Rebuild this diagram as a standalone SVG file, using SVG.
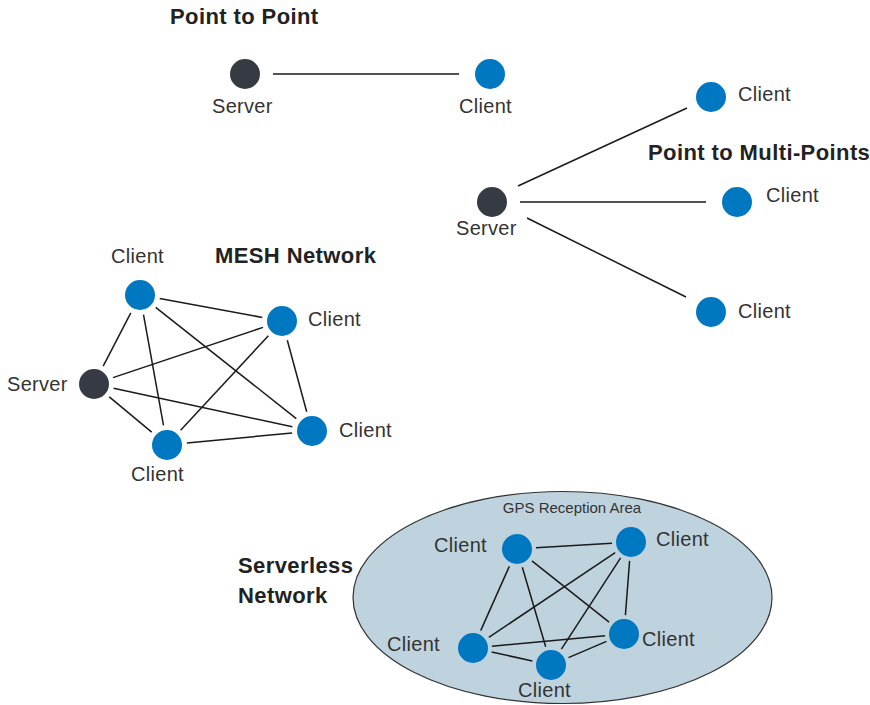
<svg xmlns="http://www.w3.org/2000/svg" width="870" height="705" viewBox="0 0 870 705">
<style>
.srv{fill:#363b43}
.cli{fill:#0077c1}
.lbl{font-family:"Liberation Sans",Arial,sans-serif;font-size:20px;fill:#333;letter-spacing:0.3px}
.ttl{font-family:"Liberation Sans",Arial,sans-serif;font-size:22px;font-weight:bold;fill:#222;letter-spacing:0.4px}
.sm{font-family:"Liberation Sans",Arial,sans-serif;font-size:15px;fill:#333}
.ln line{stroke:#1a1a1a;stroke-width:1.5}
</style>
<rect width="870" height="705" fill="#fff"/>
<g id="area">
<ellipse cx="562.5" cy="597.5" rx="209.5" ry="106" fill="#bfd3de" stroke="#333" stroke-width="1.2"/>
<text class="sm" x="572" y="513" text-anchor="middle">GPS Reception Area</text>
</g>
<g id="titles">
<text class="ttl" x="170" y="24">Point to Point</text>
<text class="ttl" x="648" y="160">Point to Multi-Points</text>
<text class="ttl" x="215" y="263">MESH Network</text>
<text class="ttl" x="238" y="573">Serverless</text>
<text class="ttl" x="238" y="603">Network</text>
</g>
<g id="connectors" class="ln">
<line x1="273" y1="74" x2="459" y2="74"/>
<line x1="518" y1="186" x2="687" y2="108"/>
<line x1="520" y1="202" x2="706" y2="202"/>
<line x1="527" y1="218" x2="686" y2="297"/>
<line x1="103.2" y1="366.2" x2="130.8" y2="312.8"/>
<line x1="113.0" y1="377.6" x2="263.0" y2="327.4"/>
<line x1="113.6" y1="388.2" x2="292.4" y2="426.8"/>
<line x1="109.3" y1="396.8" x2="151.7" y2="432.2"/>
<line x1="159.7" y1="298.6" x2="262.3" y2="317.4"/>
<line x1="155.7" y1="307.4" x2="296.3" y2="418.6"/>
<line x1="143.5" y1="314.7" x2="163.5" y2="425.3"/>
<line x1="287.3" y1="340.3" x2="306.7" y2="411.7"/>
<line x1="268.4" y1="335.7" x2="180.6" y2="430.3"/>
<line x1="186.9" y1="443.1" x2="292.1" y2="432.9"/>
<line x1="536.0" y1="547.8" x2="612.0" y2="543.2"/>
<line x1="509.3" y1="566.4" x2="480.7" y2="630.6"/>
<line x1="522.3" y1="567.2" x2="545.7" y2="646.8"/>
<line x1="531.9" y1="560.8" x2="609.1" y2="622.2"/>
<line x1="615.2" y1="552.6" x2="488.8" y2="637.4"/>
<line x1="620.6" y1="557.9" x2="561.4" y2="649.1"/>
<line x1="629.6" y1="560.9" x2="625.4" y2="615.1"/>
<line x1="491.6" y1="652.0" x2="532.4" y2="661.0"/>
<line x1="491.9" y1="646.2" x2="605.1" y2="635.8"/>
<line x1="568.5" y1="657.6" x2="606.5" y2="641.4"/>
</g>
<g id="p2p-server"><circle class="srv" cx="245" cy="74" r="15"/><text class="lbl" x="212" y="113">Server</text></g>
<g id="p2p-client"><circle class="cli" cx="490" cy="74" r="15"/><text class="lbl" x="459" y="113">Client</text></g>
<g id="pm-server"><circle class="srv" cx="492" cy="202" r="15"/><text class="lbl" x="456" y="235">Server</text></g>
<g id="pm-client1"><circle class="cli" cx="711" cy="97" r="15"/><text class="lbl" x="738" y="101">Client</text></g>
<g id="pm-client2"><circle class="cli" cx="737" cy="202" r="15"/><text class="lbl" x="766" y="202">Client</text></g>
<g id="pm-client3"><circle class="cli" cx="711" cy="312" r="15"/><text class="lbl" x="738" y="318">Client</text></g>
<g id="mesh-server"><circle class="srv" cx="94" cy="384" r="15"/><text class="lbl" x="7" y="391">Server</text></g>
<g id="mesh-client-top"><circle class="cli" cx="140" cy="295" r="15"/><text class="lbl" x="111" y="263">Client</text></g>
<g id="mesh-client-right"><circle class="cli" cx="282" cy="321" r="15"/><text class="lbl" x="308" y="326">Client</text></g>
<g id="mesh-client-br"><circle class="cli" cx="312" cy="431" r="15"/><text class="lbl" x="339" y="437">Client</text></g>
<g id="mesh-client-bottom"><circle class="cli" cx="167" cy="445" r="15"/><text class="lbl" x="131" y="481">Client</text></g>
<g id="sl-client-tl"><circle class="cli" cx="517" cy="549" r="15"/><text class="lbl" x="434" y="552">Client</text></g>
<g id="sl-client-tr"><circle class="cli" cx="631" cy="542" r="15"/><text class="lbl" x="656" y="546">Client</text></g>
<g id="sl-client-bl"><circle class="cli" cx="473" cy="648" r="15"/><text class="lbl" x="387" y="651">Client</text></g>
<g id="sl-client-b"><circle class="cli" cx="551" cy="665" r="15"/><text class="lbl" x="518" y="697">Client</text></g>
<g id="sl-client-br"><circle class="cli" cx="624" cy="634" r="15"/><text class="lbl" x="642" y="646">Client</text></g>
</svg>
